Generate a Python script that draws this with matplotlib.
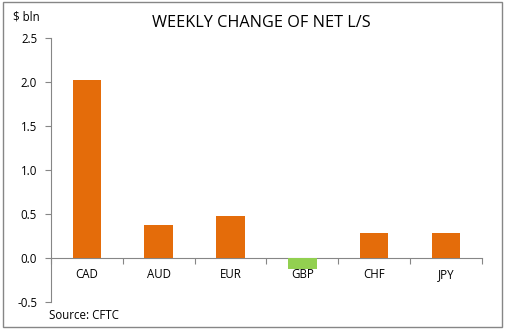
import matplotlib.pyplot as plt
from matplotlib.patches import Rectangle

currencies = ["CAD", "AUD", "EUR", "GBP", "CHF", "JPY"]
change = [2.02, 0.375, 0.475, -0.12, 0.285, 0.285]
orange = "#E46C0A"
green = "#92D050"

plt.rcParams["font.family"] = ["Open Sans", "DejaVu Sans"]

fig = plt.figure(figsize=(5.05, 3.31), dpi=100)
ax = fig.add_axes([0.101, 0.0876, 0.853, 0.7976])

cols = [orange if v >= 0 else green for v in change]
x = list(range(len(currencies)))
ax.bar(x, change, width=0.4, color=cols, zorder=3)

ax.set_xlim(-0.5, len(currencies) - 0.5)
ax.set_ylim(-0.5, 2.5)
yt = [-0.5, 0.0, 0.5, 1.0, 1.5, 2.0, 2.5]
ax.set_yticks(yt)
ax.set_yticklabels([f"{v:.1f}" for v in yt], fontsize=8.3)

# x axis sits on zero
for s in ["top", "right"]:
    ax.spines[s].set_visible(False)
ax.spines["bottom"].set_position(("data", 0))
ax.spines["bottom"].set_color("#868686")
ax.spines["left"].set_color("#868686")
ax.tick_params(axis="y", length=4, color="#868686", pad=6)
ax.set_xticks([i - 0.5 for i in range(len(currencies) + 1)])
ax.set_xticklabels([])
ax.tick_params(axis="x", length=4, color="#868686")
for i, c in enumerate(currencies):
    ax.text(i, -0.19, c, ha="center", va="center", fontsize=8.3)

fig.text(0.517, 0.93, "WEEKLY CHANGE OF NET L/S", ha="center", va="center", fontsize=11.7)
fig.text(0.026, 0.948, "$ bln", ha="left", va="center", fontsize=8.3)
fig.text(0.097, 0.048, "Source: CFTC", ha="left", va="center", fontsize=8.3)

fig.patches.append(Rectangle((0.006, 0.012), 0.988, 0.982, transform=fig.transFigure,
                             fill=False, edgecolor="#868686", linewidth=1))

fig.savefig("out.png", dpi=100)
